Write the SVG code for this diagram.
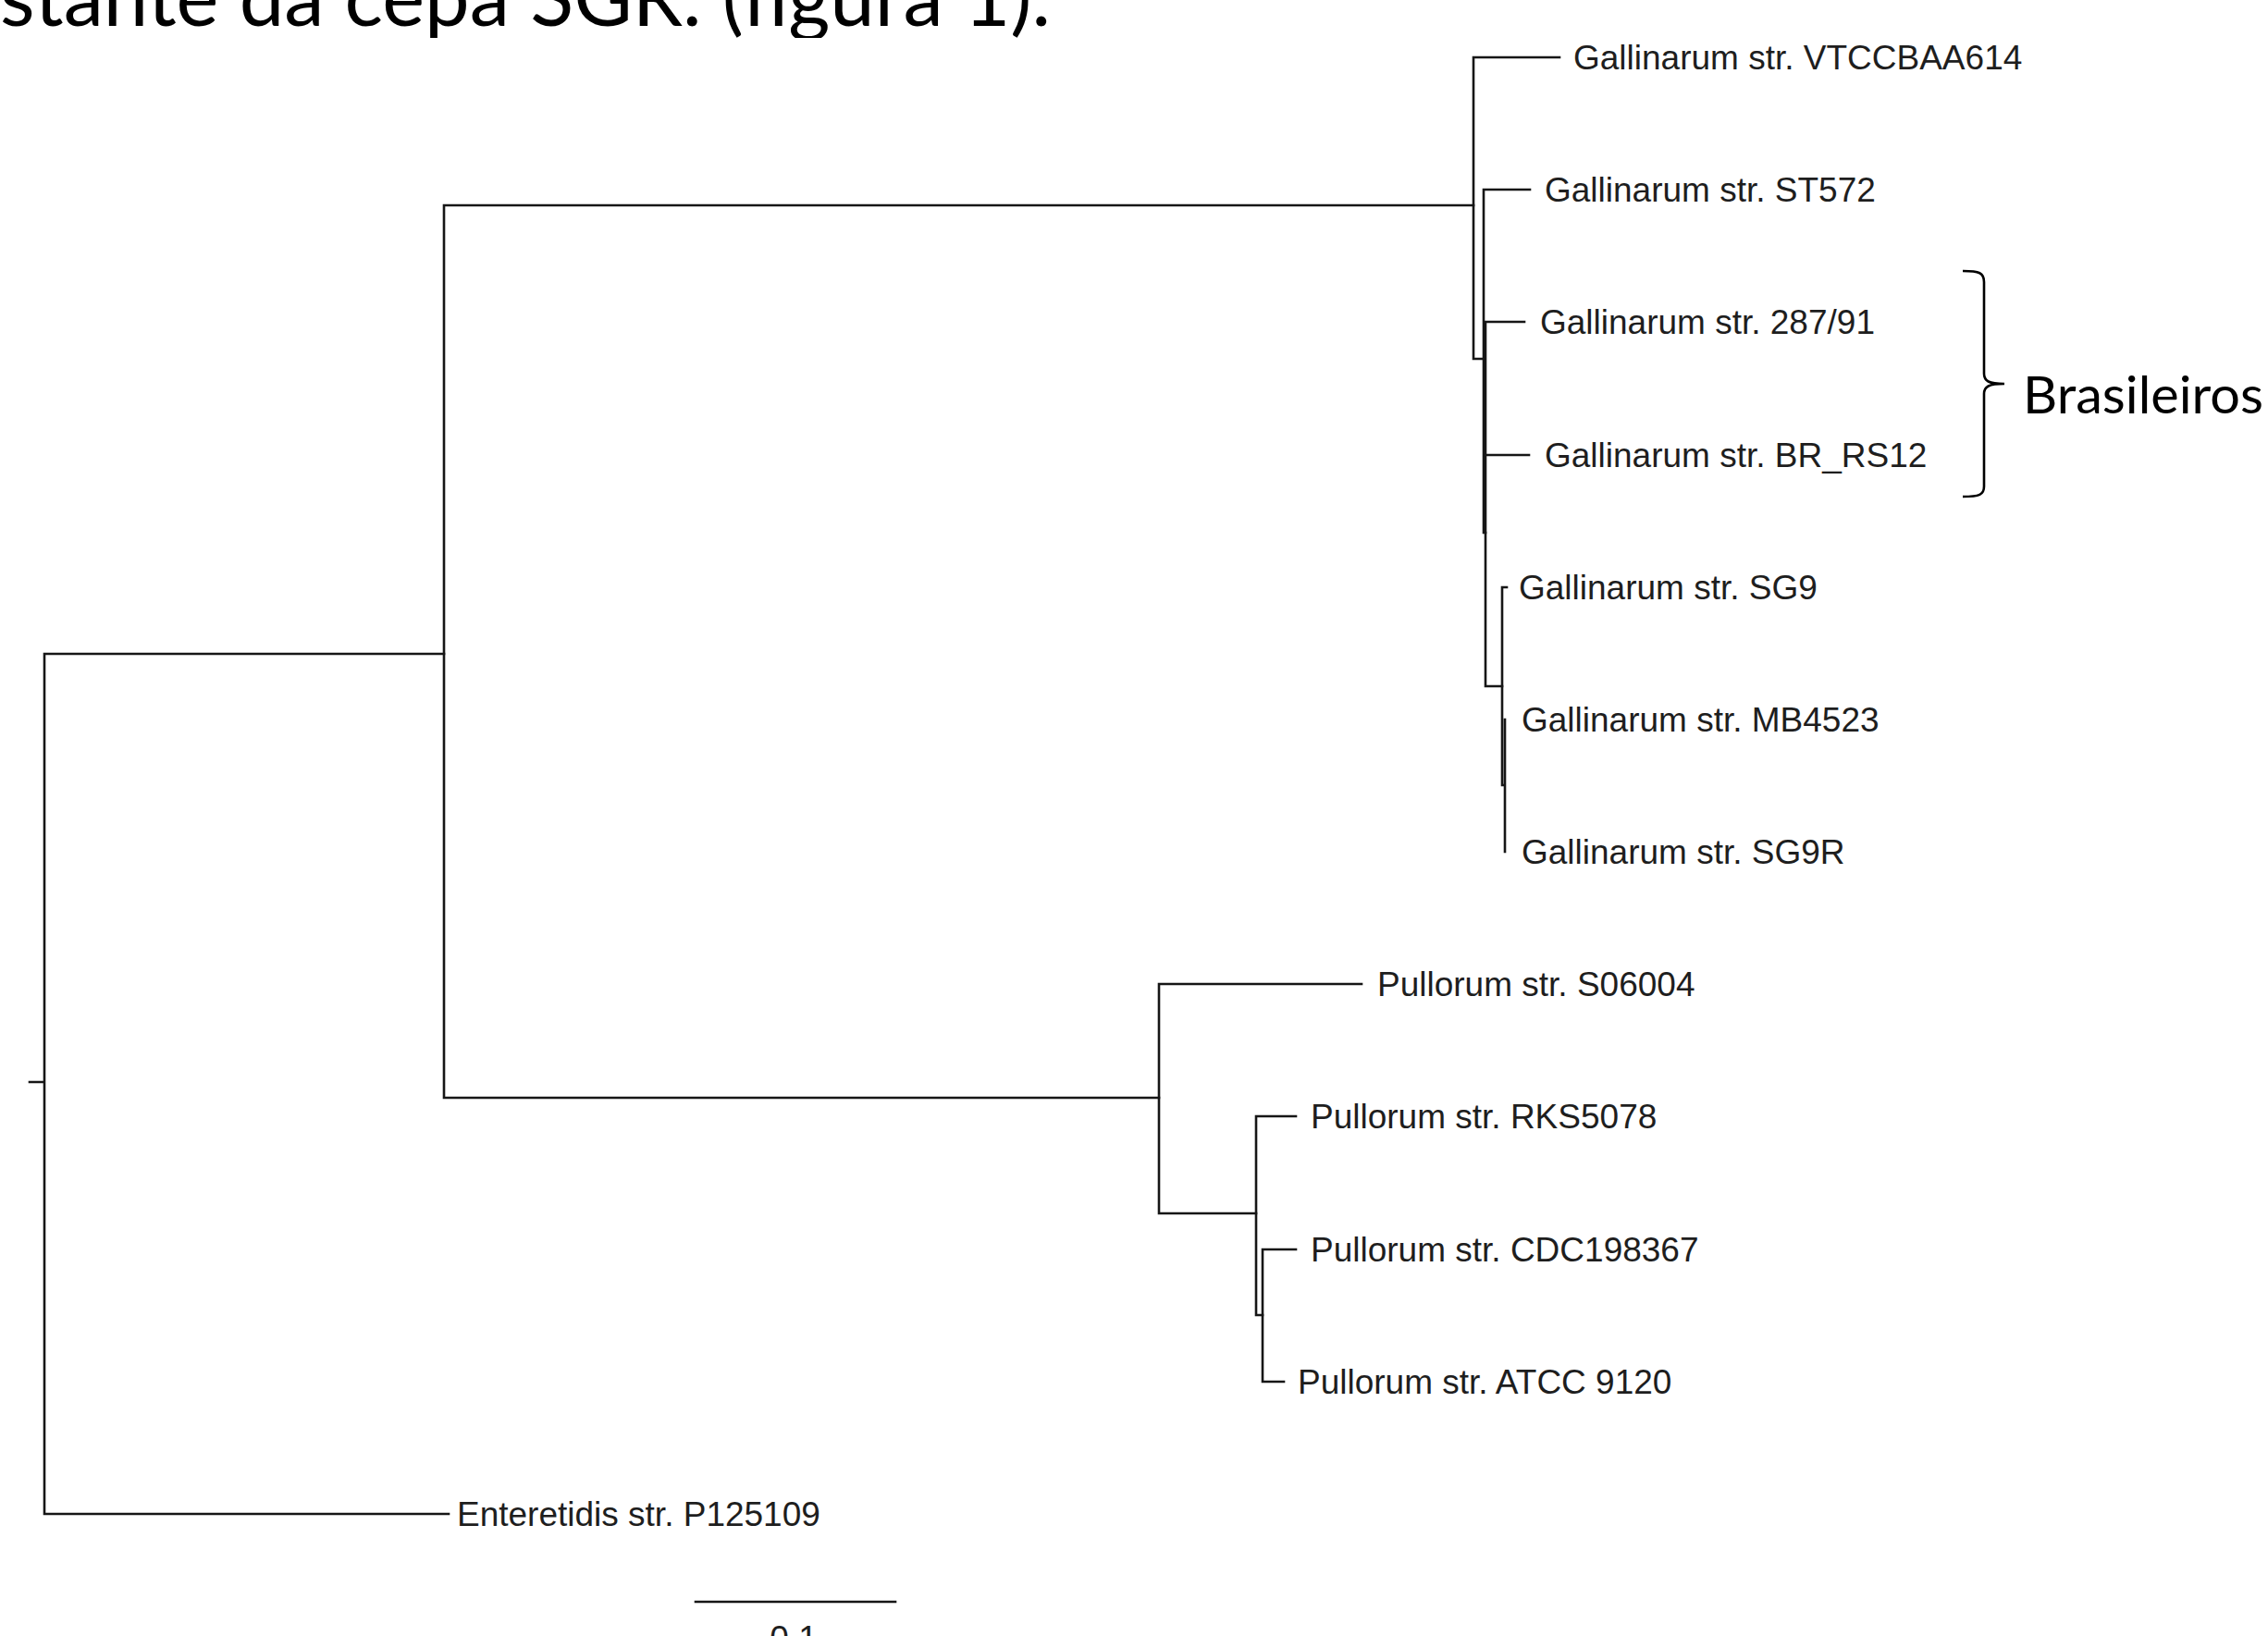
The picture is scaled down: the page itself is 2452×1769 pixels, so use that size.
<svg xmlns="http://www.w3.org/2000/svg" width="2452" height="1769" viewBox="0 0 2452 1769">
<defs>
<clipPath id="titleclip"><rect x="0" y="0" width="1300" height="41"/></clipPath>
</defs>
<style>
.br{fill:none;stroke:#161616;stroke-width:2.6;stroke-linecap:square}
.lb{font-family:"Liberation Sans",Arial,sans-serif;font-size:37px;fill:#1e1e1e}
.cal{font-family:Lato,"Open Sans",sans-serif;fill:#000}
</style>
<rect width="2452" height="1769" fill="#fff"/>
<g clip-path="url(#titleclip)">
<text id="title" class="cal" x="0" y="28" font-size="88" textLength="1136" lengthAdjust="spacingAndGlyphs">stante da cepa SGR. (figura 1).</text>
</g>
<g id="connectors">
<path class="br" d="M32,1170 H48 M48,707 V1637 M48,707 H480 M48,1637 H485"/>
<path class="br" d="M480,222 V1187 M480,222 H1593 M480,1187 H1253"/>
<path class="br" d="M1593,62 V388 M1593,62 H1686 M1593,388 H1604"/>
<path class="br" d="M1604,205 V576 M1604,205 H1654 M1604,576 H1606"/>
<path class="br" d="M1606,348 V742 M1606,348 H1648 M1606,492 H1653 M1606,742 H1624"/>
<path class="br" d="M1624,635 V849 M1624,635 H1629 M1624,849 H1627 M1627,778 V921"/>
<path class="br" d="M1253,1064 V1312 M1253,1064 H1472 M1253,1312 H1358"/>
<path class="br" d="M1358,1207 V1422 M1358,1207 H1401 M1358,1422 H1365"/>
<path class="br" d="M1365,1351 V1494 M1365,1351 H1401 M1365,1494 H1388"/>
<path class="br" d="M752,1732 H968"/>
</g>
<g id="n-vtcc"><text class="lb" x="1701" y="75">Gallinarum str. VTCCBAA614</text></g>
<g id="n-st572"><text class="lb" x="1670" y="218">Gallinarum str. ST572</text></g>
<g id="n-28791"><text class="lb" x="1665" y="361">Gallinarum str. 287/91</text></g>
<g id="n-brrs12"><text class="lb" x="1670" y="505">Gallinarum str. BR_RS12</text></g>
<g id="n-sg9"><text class="lb" x="1642" y="648">Gallinarum str. SG9</text></g>
<g id="n-mb4523"><text class="lb" x="1645" y="791">Gallinarum str. MB4523</text></g>
<g id="n-sg9r"><text class="lb" x="1645" y="934">Gallinarum str. SG9R</text></g>
<g id="n-s06004"><text class="lb" x="1489" y="1077">Pullorum str. S06004</text></g>
<g id="n-rks5078"><text class="lb" x="1417" y="1220">Pullorum str. RKS5078</text></g>
<g id="n-cdc"><text class="lb" x="1417" y="1364">Pullorum str. CDC198367</text></g>
<g id="n-atcc"><text class="lb" x="1403" y="1507">Pullorum str. ATCC 9120</text></g>
<g id="n-ent"><text class="lb" x="494" y="1650">Enteretidis str. P125109</text></g>
<g id="scale"><text class="lb" x="858" y="1784" text-anchor="middle">0.1</text></g>
<g id="brace">
<path fill="none" stroke="#000" stroke-width="2.6" d="M2122,293 C2140,293 2145,295 2145,305 L2145,404 C2145,412 2150,415 2167,415 C2150,415 2145,418 2145,426 L2145,526 C2145,535 2140,537 2122,537"/>
<text class="cal" x="2187" y="447" font-size="56" textLength="260" lengthAdjust="spacingAndGlyphs">Brasileiros</text>
</g>
</svg>
